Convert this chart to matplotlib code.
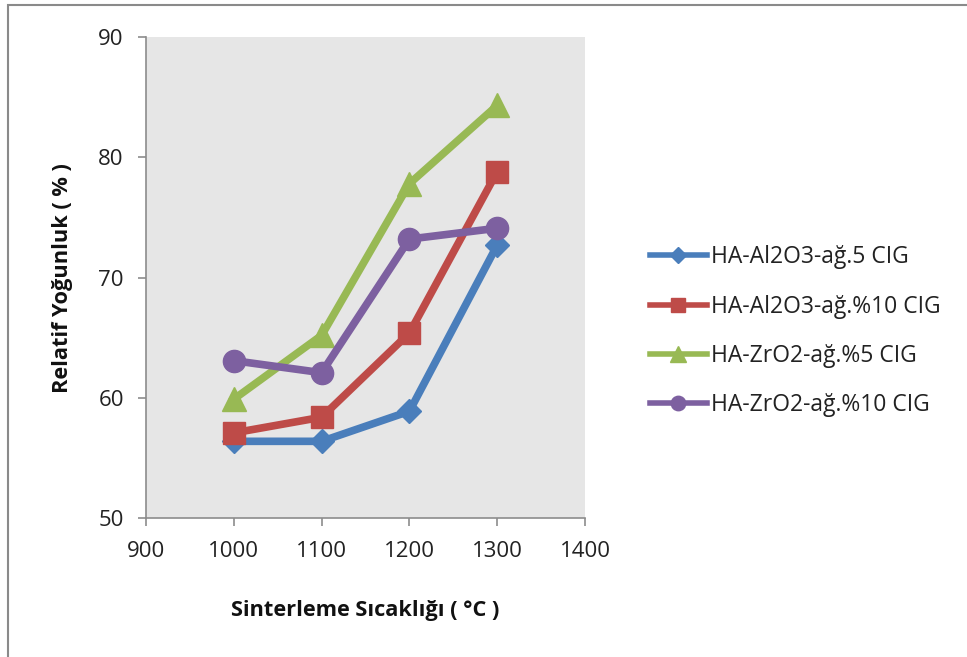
import matplotlib.pyplot as plt
from matplotlib.patches import Rectangle

plt.rcParams['font.family'] = ['Open Sans', 'DejaVu Sans']

temps = [1000, 1100, 1200, 1300]
al2o3_5 = [56.4, 56.4, 58.9, 72.7]
al2o3_10 = [57.1, 58.4, 65.4, 78.8]
zro2_5 = [59.9, 65.2, 77.8, 84.3]
zro2_10 = [63.1, 62.1, 73.2, 74.1]

labels = ['HA-Al2O3-ağ.5 CIG', 'HA-Al2O3-ağ.%10 CIG',
          'HA-ZrO2-ağ.%5 CIG', 'HA-ZrO2-ağ.%10 CIG']
colors = ['#4a7ebb', '#be4b48', '#98b954', '#7d60a0']
markers = ['D', 's', '^', 'o']
msizes = [12, 16, 17, 16]

xticks = [900, 1000, 1100, 1200, 1300, 1400]
yticks = [50, 60, 70, 80, 90]

fig = plt.figure(figsize=(9.67, 6.57), dpi=100)
ax = fig.add_axes([0.151, 0.211, 0.454, 0.733])
ax.set_facecolor('#e6e6e6')

for y, lab, c, m, ms in zip([al2o3_5, al2o3_10, zro2_5, zro2_10],
                            labels, colors, markers, msizes):
    ax.plot(temps, y, color=c, lw=5.5, marker=m, ms=ms, label=lab,
            solid_joinstyle='round')

ax.set_xlim(900, 1400)
ax.set_ylim(50, 90)
ax.set_xticks(xticks)
ax.set_yticks(yticks)
for s in ['top', 'right']:
    ax.spines[s].set_visible(False)
for s in ['left', 'bottom']:
    ax.spines[s].set_color('#8c8c8c')
    ax.spines[s].set_linewidth(1.2)
ax.tick_params(colors='#8c8c8c', length=6, width=1.2, labelcolor='#222222',
               labelsize=16, pad=10)
ax.set_xlabel('Sinterleme Sıcaklığı ( °C )', fontsize=15.7, fontweight='bold',
              labelpad=28, color='#111111')
ax.set_ylabel('Relatif Yoğunluk ( % )', fontsize=15.7, fontweight='bold',
              labelpad=18, color='#111111')

leg = fig.legend(loc='center left', bbox_to_anchor=(0.672, 0.496),
                 frameon=False, fontsize=16.5, handlelength=2.5,
                 labelspacing=1.1, markerscale=0.65, handletextpad=0.15,
                 borderpad=0, borderaxespad=0)
for t in leg.get_texts():
    t.set_color('#222222')
for h in leg.legend_handles:
    h.set_linewidth(4)

# outer chart frame
fig.patches.append(Rectangle((8 / 967, -0.1), 1.2, 1.1 - 5 / 657,
                             transform=fig.transFigure, fill=False,
                             edgecolor='#8a8a8a', lw=1.5))

fig.savefig('out.png', dpi=100)
